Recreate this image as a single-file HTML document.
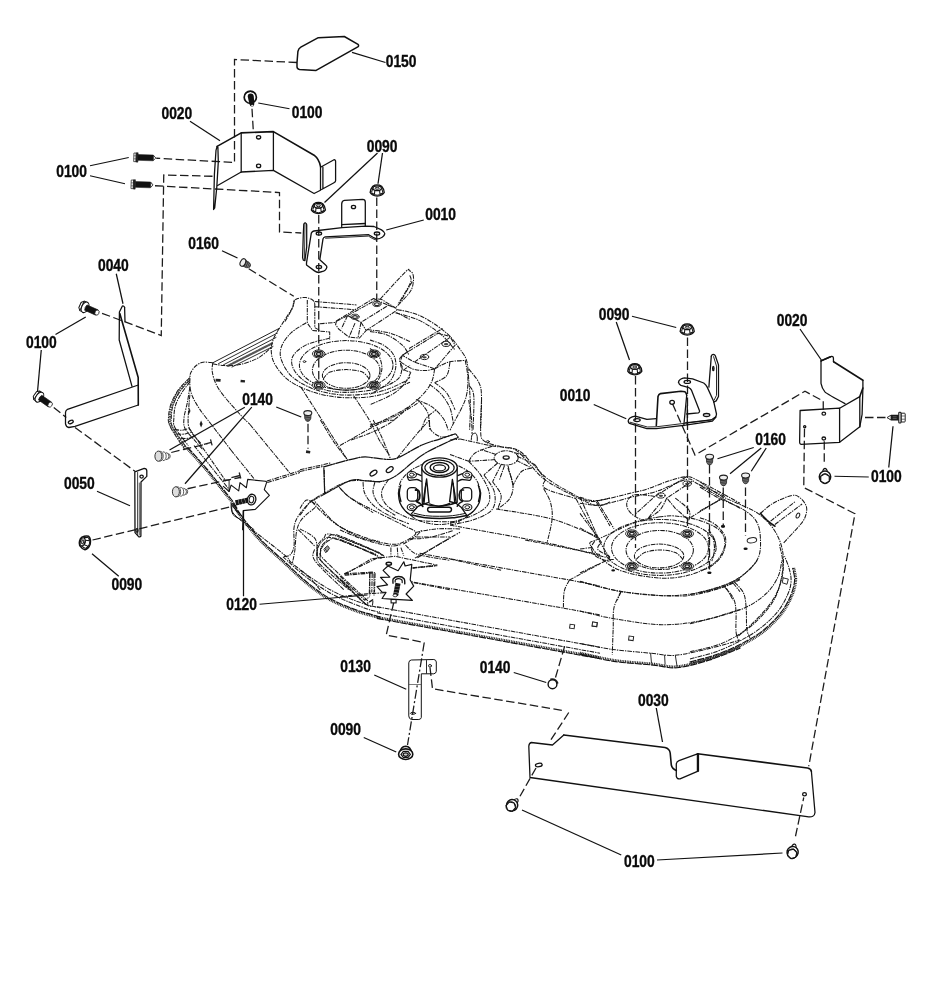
<!DOCTYPE html>
<html><head><meta charset="utf-8"><title>Mower deck parts diagram</title><style>
html,body{margin:0;padding:0;background:#fff}
svg{display:block}
g.tx{filter:opacity(0.999)}
text{font-family:"Liberation Sans",sans-serif;font-weight:bold;font-size:15.9px;fill:#0a0a0a;stroke:#0a0a0a;stroke-width:0.35}
.s{fill:none;stroke:#111;stroke-width:1.28;stroke-linejoin:round;stroke-linecap:round}
.sf{fill:#fff;stroke:#111;stroke-width:1.28;stroke-linejoin:round;stroke-linecap:round}
.t{fill:none;stroke:#222;stroke-width:0.95;stroke-linejoin:round;stroke-linecap:round}
.tf{fill:#fff;stroke:#222;stroke-width:0.95;stroke-linejoin:round;stroke-linecap:round}
.d{fill:none;stroke:#1c1c1c;stroke-width:1.28;stroke-dasharray:8.5 3.5}
.p{fill:none;stroke:#181818;stroke-width:1.04;stroke-dasharray:4.6 1 1.4 1;stroke-linejoin:round}
.l{fill:none;stroke:#111;stroke-width:1.25}
.k{fill:#111;stroke:none}
</style></head><body>
<svg width="940" height="1000" viewBox="0 0 940 1000">
<rect width="940" height="1000" fill="#fff"/>
<!-- 05_defs -->
<defs>
<!-- flanged nut, centred -->
<g id="nut" transform="scale(0.95)">
<path d="M-7.4 2 Q-7.2 -1.6 -4.6 -4.6 Q-2.6 -6 0 -6 Q2.6 -6 4.6 -4.6 Q7.2 -1.6 7.4 2 Q5.6 5.4 0 5.8 Q-5.6 5.4 -7.4 2Z" fill="#fff" stroke="#111" stroke-width="1.45"/>
<path d="M-5.9 1.6 L-4.6 -2.6 M5.9 1.6 L4.6 -2.6 M-2.9 3.9 L-2.5 -0.2 M2.9 3.9 L2.5 -0.2 M-6 2 Q-4.6 3.6 -2.9 3.9 M6 2 Q4.6 3.6 2.9 3.9" fill="none" stroke="#111" stroke-width="1.1"/>
<path d="M-2.5 -0.2 Q0 0.6 2.5 -0.2" fill="none" stroke="#111" stroke-width="1.1"/>
<ellipse cx="0" cy="-2.6" rx="4.4" ry="2.4" fill="#fff" stroke="#111" stroke-width="1.25"/>
<ellipse cx="0" cy="-2.5" rx="2.2" ry="1" fill="#fff" stroke="#111" stroke-width="1"/>
<path d="M-6.6 2.6 Q0 7 6.6 2.6" fill="none" stroke="#111" stroke-width="1"/>
</g>
<!-- horizontal plug (0140) head left -->
<g id="plugh">
<ellipse cx="-3.6" cy="0" rx="3.5" ry="5.1" fill="#ddd" stroke="#333" stroke-width="1"/>
<path d="M-2.8 -4.9 Q1 -5.3 1.2 0 Q1 5.3 -2.8 4.9 M0.8 -4.4 Q4 -4.5 4.2 0 Q4 4.5 0.8 4.4 M3.8 -3.6 Q6.8 -3.6 7 0 Q6.8 3.6 3.8 3.6 M6.6 -2.6 Q8.2 -2 8.2 0 Q8.2 2 6.6 2.6" fill="none" stroke="#444" stroke-width="0.9"/>
</g>
<!-- vertical plug (0160) head top -->
<g id="plugv">
<path d="M-3.2 0 L-3 4.2 Q-2.2 7.2 0 7.2 Q2.2 7.2 3 4.2 L3.2 0Z" fill="#333" stroke="#222" stroke-width="0.8"/>
<path d="M-2.8 2.8 L2.8 2.2 M-2.6 4.6 L2.6 4 M-2 6 L2 5.6" stroke="#999" stroke-width="0.6" fill="none"/>
<ellipse cx="0" cy="-1.1" rx="4" ry="2.5" fill="#eee" stroke="#222" stroke-width="1.1"/>
</g>
<!-- hex flange bolt, axis along +x (head at left, centred on head) -->
<g id="hbolt">
<path d="M-2.2 -5.2 L-4.4 -2.8 L-4.4 2.8 L-2.2 5.2 L0.8 5.2 L0.8 -5.2Z" fill="#fff" stroke="#111" stroke-width="1"/>
<path d="M-2.2 -5.2 L-2.2 5.2" fill="none" stroke="#111" stroke-width="0.8"/>
<ellipse cx="1.2" cy="0" rx="3.4" ry="5.6" fill="#fff" stroke="#111" stroke-width="1.1"/>
<path d="M2 -2.9 L14 -2.9 L14 2.9 L2 2.9 Q0.6 0 2 -2.9Z" fill="#111" stroke="#111" stroke-width="0.6"/>
<ellipse cx="14.2" cy="0" rx="2" ry="2.7" fill="#fff" stroke="#222" stroke-width="0.8"/>
</g>
<!-- long screw axis +x, head left at 0 -->
<g id="screw">
<path d="M4.2 -2.9 L19.4 -2.9 L21.8 0 L19.4 2.9 L4.2 2.9Z" fill="#111" stroke="#111" stroke-width="0.5"/>
<path d="M19.6 -2.5 L22 0 L19.6 2.5Z" fill="#fff" stroke="#222" stroke-width="0.7"/>
<rect x="0" y="-4.3" width="2.3" height="8.6" fill="#fff" stroke="#333" stroke-width="0.8"/>
<path d="M0 -1.5 L2.3 -1.5 M0 1.5 L2.3 1.5" stroke="#333" stroke-width="0.6"/>
<rect x="2.3" y="-4.7" width="1.9" height="9.4" fill="#222" stroke="#111" stroke-width="0.5"/>
</g>
<!-- round-head bolt seen from head, shaft up -->
<g id="rbolt">
<path d="M-2.5 -4.5 Q-2.4 -9.4 0 -9.8 Q2.4 -9.4 2.5 -4.5Z" fill="#fff" stroke="#111" stroke-width="1.2"/>
<circle cx="0" cy="-1.4" r="5.7" fill="#fff" stroke="#111" stroke-width="1.5"/>
<polygon points="4.24,2.95 0.00,5.40 -4.24,2.95 -4.24,-1.95 -0.00,-4.40 4.24,-1.95" fill="#fff" stroke="#111" stroke-width="1.1"/>
<circle cx="0" cy="0.5" r="5" fill="none" stroke="#111" stroke-width="0.9"/>
</g>
<g id="screw2">
<path d="M6.5 -2.6 L14 -2.6 L18 0 L14 2.6 L6.5 2.6Z" fill="#1a1a1a" stroke="#111" stroke-width="0.5"/>
<path d="M14.2 -2.3 L18.2 0 L14.2 2.3Z" fill="#fff" stroke="#222" stroke-width="0.8"/>
<path d="M8.5 -1 L12.5 -1 M8.5 0.8 L12.5 0.8" stroke="#888" stroke-width="0.6"/>
<rect x="0" y="-4.4" width="4.2" height="8.8" rx="0.8" fill="#fff" stroke="#222" stroke-width="1"/>
<path d="M0.3 -1.6 L4 -1.6 M0.3 1.6 L4 1.6" stroke="#333" stroke-width="0.7"/>
<rect x="4.2" y="-5.4" width="2.2" height="10.8" rx="0.8" fill="#fff" stroke="#111" stroke-width="1.1"/>
</g>
<g id="nutb">
<path d="M-5.8 0 Q-5.2 -6.4 0 -6.7 Q5.2 -6.4 5.8 0Z" fill="#fff" stroke="#111" stroke-width="1.4"/>
<ellipse cx="0" cy="1.3" rx="7.1" ry="5.3" fill="#fff" stroke="#111" stroke-width="1.6"/>
<polygon points="4.70,1.50 2.35,4.62 -2.35,4.62 -4.70,1.50 -2.35,-1.62 2.35,-1.62" fill="#fff" stroke="#111" stroke-width="1.2"/>
<ellipse cx="0" cy="1.7" rx="2.5" ry="1.8" fill="#ccc" stroke="#111" stroke-width="1.3"/>
</g>
</defs>
<!-- 20_leaders -->
<g class="l">
<path d="M385.5 62.5 L352 52.3"/>
<path d="M289.5 108.75 L258.25 103"/>
<path d="M190 121.25 L220 140.75"/>
<path d="M90 165.75 L128.75 157.5"/>
<path d="M90 175.75 L125 183.75"/>
<path d="M377.5 153 L324.5 202.5"/>
<path d="M382.5 153 L378 183.75"/>
<path d="M423.75 220 L386.25 230"/>
<path d="M222 250.75 L237.5 258"/>
<path d="M116.25 273.75 L123 303.75"/>
<path d="M55.5 334.5 L85.75 317"/>
<path d="M41.25 350 L37.5 391.75"/>
<path d="M244.8 407.2 L169.5 450"/>
<path d="M251.8 407.2 L185 483.75"/>
<path d="M276.25 407 L301.25 417"/>
<path d="M97 491.25 L130 505.75"/>
<path d="M92 553.75 L118.75 576.25"/>
<path d="M243.5 511 L243.5 596.25"/>
<path d="M259.5 604.25 L367.5 595"/>
<path d="M374.25 675 L406.25 689.25"/>
<path d="M363.75 737.5 L396.25 752"/>
<path d="M513.75 672.5 L546.25 682.5"/>
<path d="M656.25 708 L662.5 742"/>
<path d="M522 810 L621.25 855"/>
<path d="M657 860 L782.5 853"/>
<path d="M632 316.25 L676.25 327.5"/>
<path d="M616.25 322 L629.5 360"/>
<path d="M593.75 404.5 L626.25 418.75"/>
<path d="M800 329 L822 361"/>
<path d="M753.75 447.5 L717.5 458.75"/>
<path d="M761.25 448 L730 473.75"/>
<path d="M766.25 448 L751.25 471.25"/>
<path d="M893 426.25 L888.75 467.5"/>
<path d="M834.5 476.25 L868.75 477"/>
</g>
<!-- 30_dashed -->
<g class="d">
<!-- 0150 to shield -->
<path d="M297 62.5 L234.5 59.5 L234.5 162.5 L156.25 158.25"/>
<!-- top bolt down -->
<path d="M252 108.75 L253.25 130"/>
<!-- lower screw long path to bracket -->
<path d="M155 185.75 L279.5 192.5 L279.5 232 L301.25 233"/>
<!-- L path to 0040 bolt -->
<path d="M212.5 176.25 L163.75 175 L161.25 335.5 L100 312.5"/>
<!-- nuts verticals top -->
<path d="M318.75 215 L318.75 385"/>
<path d="M376.75 197.5 L376.75 301"/>
<!-- 0160 plug to deck -->
<path d="M248.75 268.75 L293.75 296.25"/>
<!-- lower-left bolt to 0040 plate to 0050 -->
<path d="M53.75 407.5 L66.25 417.5"/>
<path d="M75 427.5 L135 471.25"/>
<!-- plugs 0140 -->
<path d="M171.25 452.5 L208 443.5"/>
<path d="M187.5 488.75 L240 477.5"/>
<!-- nut 0090 to bolt 0120 -->
<path d="M92.5 540 L236 505.5"/>
<!-- 0140 mid -->
<path d="M308 423.75 L308 448.75"/>
<!-- 0130 -->
<path d="M393.75 602.5 L386.25 635 L424.25 642.5"/>
<path d="M430 667.5 L432.5 688.75 L564.5 710.75"/>
<path d="M568.75 712.5 L550 741.25"/>
<!-- 0140 bottom -->
<path d="M555.5 677.5 L565 645"/>
<!-- 0030 bolts -->
<path d="M520 796.25 L536.25 767.5"/>
<path d="M795.5 836.25 L803.75 797.5"/>
<!-- long right -->
<path d="M804.5 428.75 L803.75 487.5 L855 513.75 L808.75 766.25"/>
<!-- bracket right to shield -->
<path d="M672.5 403.75 L695 455 L805 391.25 L822 400.5"/>
<path d="M823.25 401.25 L823.25 410"/>
<path d="M824.25 441.25 L824.25 465"/>
<path d="M865 417.5 L886.25 417.5"/>
<!-- right nuts verticals -->
<path d="M635.5 376 L635.5 548"/>
<path d="M687.5 337.5 L687.5 534"/>
<!-- 0160 plugs -->
<path d="M709.5 465 L709.5 572"/>
<path d="M723.25 487.5 L723.25 525"/>
<path d="M745.5 487.5 L745.5 536"/>
</g>
<!-- 0130 centerline dash-dot -->
<path class="d" style="stroke-dasharray:9 2.5 2 2.5" d="M424.25 642.5 L407.5 745"/>
<!-- 40_topleft -->
<g class="s">
<!-- 0150 cover -->
<path style="stroke-width:1.5" d="M297 62.5 L297.9 51.5 Q298.5 48.5 300.8 47.2 L318.3 37.7 L344.3 36.5 L358 44.3 Q359.3 45.6 357.8 46.8 L316.1 70.4 L299.5 69.5 Q297 69 297 66.8 Z"/>
<!-- shield 0020 left -->
<path style="stroke-width:1.6" d="M217.1 146.4 L241.2 132.9 L273.4 131.6 L314.1 155.2 Q319 159 320.5 166.4"/>
<path d="M320.5 166.4 L320.5 190.3 L314.1 193.5 L273.4 170.4 L241.2 172 L217.6 185.5"/>
<path d="M241.2 132.9 L241.2 172 M273.4 131.6 L273.4 170.4"/>
<path d="M217.1 146.4 L216 150.4 L214.4 174.4 L213.6 209.5 L214.7 207.9 L216.8 187.1 L218.3 161.6 L217.9 147.2"/>
<path d="M320.5 167.2 L334 159.7 Q335.6 159.6 335.6 161.5 L335.6 180.7 Q335.6 182 334 182.7 L321.6 189.5 M322.9 167.2 L322.9 188.7"/>
<ellipse cx="258.6" cy="137.3" rx="2.1" ry="1.7"/>
<ellipse cx="258.6" cy="165.9" rx="2.1" ry="1.7"/>
</g>
<!-- 41_brk_top -->
<g class="s">
<!-- bracket 0010 top-left: upright tab -->
<path d="M341.7 227.3 L341.7 203.9 Q341.9 200.6 344.4 200.3 L362.6 199.4 Q365.2 199.5 365.3 202 L365.3 226.1"/>
<path d="M341.7 224.6 L365.3 223.5"/>
<ellipse cx="353.5" cy="207" rx="2.1" ry="1.7"/>
<!-- main plate -->
<path style="stroke-width:1.3" d="M313.9 231 L342.1 227.6 L365.5 226.2 L374 226.5 L381.5 229.9 Q385.2 232.3 384.7 234 Q384.3 236 382.2 237.2 Q378.6 239.4 376.6 238.8 L373 237.3 L368.7 234.7 L325.1 236.8 Q323.4 237.3 323 238.9 L319.8 259.7 L325.6 265 Q327.6 266.6 326.4 268.4 Q325.6 270.2 323.6 271.2 L318.7 272.5 Q316.6 272.4 314.5 270.9 L306.5 265 L306.5 262.9 L311.3 233.1 Q312.3 231.4 313.9 231Z"/>
<path d="M325.6 238.2 L368.4 236.1 L372.8 238.7 L376.6 240.2" style="stroke-width:0.9"/>
<ellipse cx="318.9" cy="233.6" rx="2.7" ry="1.6" style="stroke-width:1.3"/>
<ellipse cx="377" cy="233.6" rx="2.7" ry="1.6" style="stroke-width:1.3"/>
<ellipse cx="318.9" cy="266.9" rx="2.7" ry="1.6" style="stroke-width:1.3"/>
<!-- left flap -->
<path d="M303.8 224 Q304.6 222.8 305.6 223 Q306.7 223.4 306.7 224.8 L306.7 246.9 L304.9 260.7 L303.3 260.2 L302.6 257.6 L303.3 234.1Z"/>
<path d="M305 224 L304.4 259" style="stroke-width:0.8"/>
</g>
<!-- 42_left -->
<g class="s">
<!-- 0040 -->
<path d="M124.6 307.3 Q123.6 305.5 122.4 306 L119.4 312 L119.2 340 L132 386.3"/>
<path d="M124.6 307.3 L125 321.5"/>
<path style="stroke-width:1.6" d="M119.8 313.5 L138.2 377.5 L138.3 405"/>
<path d="M138.3 385 L67.5 409.3 Q65.5 410.5 65.5 412.5 L65.5 423.8 Q66.3 427.2 68.8 427.5 L75 426.3 L138.3 405"/>
<ellipse cx="70.8" cy="422" rx="2.6" ry="1.5" transform="rotate(-25 70.8 422)"/>
<!-- 0050 strap -->
<path d="M134.8 471.8 L144.2 468.4 Q146.6 468.4 146.8 470.8 L146.8 476.4 L141 482 L140.9 536.2 Q139.8 537.6 138.4 536.4 L135 532.6 Z"/>
<path d="M137.6 472.5 L137.6 534.5" style="stroke-width:0.8"/>
<path d="M139.3 483 L139.3 535" style="stroke-width:0.8;stroke:#333"/>
<ellipse cx="141.6" cy="476.6" rx="1.7" ry="1.5"/>
<ellipse cx="137" cy="530.5" rx="1" ry="1.8"/>
<!-- 0130 -->
<path d="M408.8 662.5 Q409 660.2 411.3 660 L433.8 659.5 Q436.1 659.7 436.3 662 L436.3 671.3 Q436 673.5 433.8 673.8 L421.3 673.8 L421.3 717.5 Q421 719.3 418.8 719.5 L411.3 719.5 Q409 719 408.8 716.3Z" style="stroke-width:1"/>
<path d="M409 684.5 L421 684.5" style="stroke-width:0.7;stroke:#444"/><path d="M426.5 660.5 L426.5 673.2" style="stroke-width:0.9"/>
<ellipse cx="430" cy="665.8" rx="1.5" ry="1.3" style="stroke-width:0.9"/>
<ellipse cx="413" cy="713.3" rx="2.6" ry="1" style="stroke-width:0.9"/>
</g>
<!-- 43_plate0030 -->
<g class="s">
<path style="stroke-width:1.6" d="M563.8 735 L665 747.5 Q669.6 748.6 670.2 753 L671.3 765 Q672.2 769 676.3 770.4 M697.5 753.8 L807.5 768 Q811 768.6 811.4 771.5"/>
<path d="M563.8 735 L552.5 745 L531.3 742.5 Q529 743 528.8 746.3 L530 777.5 L807 816.6 Q814.6 818 815 812.5 L811.4 771.5"/>
<path d="M676.3 764 Q676.6 761.6 679 760.6 L697.5 753.8 L697.5 771.3 L680 778.8 Q677 779.4 676.3 776.3 Z"/><path d="M698 754 L698 771" style="stroke-width:2.2"/>
<ellipse cx="538.8" cy="765" rx="3.4" ry="1.7" transform="rotate(-8 538.8 765)"/>
<ellipse cx="804.5" cy="794.3" rx="1.9" ry="1.6"/>
</g>
<!-- 44_right -->
<g class="s">
<!-- right shield 0020 -->
<path d="M821 361 L826.4 358.6 L831.6 356.4 Q833.2 356.2 833.4 357.8 L833.5 361.8"/>
<path style="stroke-width:1.6" d="M821.2 360.8 L830.4 356.8 M833.6 361.8 L862.9 380.3"/>

<path d="M821 361 L821 383.4 Q822 388.6 824.9 391.9 Q827 394 845 403.6"/>
<path d="M862.9 380.3 L862.9 388.1 L862.1 414.4 L859.8 426.8"/>
<path d="M862.9 388.1 L859.8 396.6" style="stroke-width:1.6"/>
<path d="M839.6 408.2 L859.8 396.6 L859.8 426.8 L839.6 442.3"/>
<path d="M800.1 410.5 L839.6 408.2 L839.6 442.3 L801 444.3 Q799.6 444 799.6 442.3 Z"/>
<ellipse cx="823.8" cy="413.7" rx="1.8" ry="1.5"/>
<ellipse cx="823.8" cy="438.5" rx="1.8" ry="1.5"/>
<ellipse cx="804.7" cy="426.8" rx="1.1" ry="1.1"/>
</g>
<!-- 45_brk_right -->
<g class="s">
<!-- side upright tab -->
<path d="M711.3 356.1 Q711.9 354.4 713.2 354.4 Q714.8 354.6 715.3 355.8 L718.5 364.9 L718.5 396.5 L716.2 400.9 L713.6 402.1"/>
<path d="M711.3 356.1 L709.5 378.9 L708.9 387.1" />
<path d="M713.6 356.7 L716.5 366.1 L716.5 395.3 L714.2 400" style="stroke-width:0.9"/>
<ellipse cx="713.3" cy="368.4" rx="0.7" ry="2.1"/>
<!-- upper lobe + right side -->
<path d="M678.5 382.4 Q678.6 380.3 680.5 379.2 Q682.4 378 684.4 377.8 L692.6 378.9 L703.7 383 Q706 384.6 707.2 387.1 L713.6 401.2 L716.5 414 Q716.4 416 715.4 417 L711.3 419.9 L685.5 422.8"/>
<path d="M678.5 382.4 Q679 384.3 680.9 385.4 L689 387.7 Q690.6 388.5 691.4 390.1 L699.6 411.1 Q699.6 412.5 698.4 412.9 L686.7 414"/>
<ellipse cx="687.3" cy="381.9" rx="3.2" ry="1.5" style="stroke-width:1.3"/>
<ellipse cx="706.6" cy="415" rx="3.2" ry="1.5" style="stroke-width:1.3"/>
<!-- front triangle tab -->
<path style="stroke-width:1.6" d="M656.3 425.7 L658 396.5 Q658.6 394 660.4 393.6 L680.9 391.2 L685 391.8 Q686.6 393 686.7 395.3"/>
<path d="M686.7 395.3 L683.8 425.7 M687.3 405.9 L687.3 424.6"/>
<ellipse cx="672.1" cy="402.3" rx="2.3" ry="2"/>
<!-- base plate -->
<path d="M656.3 418.7 L646.9 419.3 L635.2 416.2 Q631.8 416.6 630 418.1 Q628.2 419.6 628.2 421.1 Q628.4 422.6 629.4 423.4 L646.9 428.7 L656.3 428.7 L685.5 425.2 L712.4 421.1 L716 417" style="stroke-width:1.3"/>
<path d="M630 422.2 L647.5 427 L656.3 426.8 L685.5 423.2 L711 419.9" style="stroke-width:0.9"/>
<ellipse cx="637" cy="420.1" rx="3.2" ry="1.5" style="stroke-width:1.3"/>
</g>
<!-- 50_deck1 -->
<g>
<path class="p" d="M212.8 362.8 C211.2 362.7 206.0 361.7 203.2 362.2 C200.3 362.7 197.7 364.3 195.7 366.0 C193.7 367.7 192.0 370.4 191.0 372.3 C190.0 374.2 190.1 375.2 189.9 377.7 C189.7 380.2 189.9 385.6 189.9 387.2"/>
<path class="p" d="M212.8 362.8 C212.7 364.2 211.7 367.8 212.2 371.3 C212.7 374.8 213.9 379.8 216.0 384.0 C218.1 388.2 220.2 391.5 224.5 396.8 C228.8 402.1 237.2 411.4 241.5 416.0 C245.8 420.6 248.6 423.1 250.0 424.5"/>
<path class="p" d="M189.9 387.2 C190.3 388.8 190.9 393.1 192.6 396.8 C194.3 400.5 196.5 404.5 200.0 409.6 C203.5 414.8 208.7 421.0 213.8 427.7 C219.0 434.4 228.1 446.3 230.9 450.0"/>
<path class="p" d="M189.9 377.7 C188.0 379.6 181.8 385.1 178.7 389.4 C175.6 393.6 173.0 398.8 171.3 403.2 C169.6 407.6 168.8 412.1 168.6 416.0 C168.4 419.9 167.4 420.9 170.2 426.6 C172.9 432.3 182.6 446.1 185.1 450.0"/>
<path class="p" d="M189.9 379.8 C188.3 381.7 183.1 386.9 180.3 391.0 C177.6 395.1 174.9 400.0 173.4 404.3 C171.9 408.6 171.4 413.2 171.3 417.0 C171.2 420.8 170.1 422.0 172.7 427.1 C175.3 432.2 184.4 444.4 186.7 447.9"/>
<path class="p" d="M189.9 381.9 C188.6 383.7 184.3 388.7 181.9 392.6 C179.5 396.5 176.8 401.1 175.5 405.3 C174.2 409.6 174.0 414.4 173.9 418.1 C173.8 421.8 172.6 423.1 175.0 427.7 C177.4 432.3 186.1 442.7 188.3 445.7"/>
<path class="p" style="stroke-width:2.4;stroke:#444;stroke-dasharray:1.4 1" d="M189.6 378.7 C187.9 380.6 182.4 386.0 179.5 390.2 C176.6 394.4 173.9 399.3 172.3 403.7 C170.7 408.1 170.1 412.6 169.9 416.5 C169.7 420.4 168.6 421.4 171.3 426.8 C174.0 432.2 183.6 445.2 186.0 448.9"/>
<path class="p" d="M189.9 387.2 C189.4 389.9 188.2 398.0 187.2 403.2 C186.2 408.4 184.3 413.9 184.0 418.1 C183.7 422.4 183.3 425.0 185.1 428.7 C186.9 432.4 191.7 436.8 194.7 440.4 C197.7 443.9 201.8 448.4 203.2 450.0"/>
<path class="p" d="M189.9 394.7 C189.7 396.8 189.1 402.4 188.8 407.4 C188.5 412.4 187.7 420.1 188.3 424.5 C188.9 428.9 190.5 430.8 192.6 434.0 C194.7 437.2 199.7 442.0 201.1 443.6"/>
<path class="p" d="M174.5 429.3 C175.7 429.5 179.6 430.4 181.9 430.3 C184.2 430.2 187.2 429.0 188.3 428.7"/>
<path class="p" d="M176.6 434.0 C178.0 434.0 182.6 434.4 185.1 434.0 C187.6 433.6 190.4 432.2 191.5 431.9"/>
<path class="p" d="M180.9 438.3 C182.1 438.3 186.0 438.7 188.3 438.3 C190.6 437.9 193.6 436.6 194.7 436.2"/>
<rect x="215.6" y="378.8" width="5" height="2.8" fill="#222" transform="rotate(4 218 380)"/>
<rect x="240.6" y="379.9" width="4.4" height="2.4" fill="#222" transform="rotate(6 242 381)"/>
<path d="M201.1 420.6 L202.6 424 L201.1 427.4 L199.6 424Z" fill="#222"/>
<path d="M189.6 407.6 L190.4 411 L189.6 414 L188.8 411Z" fill="#222"/>
<path class="t" style="stroke-width:1" d="M212.8 362.8 L279.0 328.5"/>
<path class="t" d="M218.5 363.6 L277.5 333.0"/>
<path class="t" d="M223.5 364.8 L276.0 337.5"/>
<path class="t" style="stroke-width:2.2;stroke:#555;stroke-dasharray:1.4 1" d="M228.0 365.8 L272.0 343.5"/>
<path class="t" d="M232.0 367.0 L273.0 346.5"/>
<path class="p" d="M212.8 363.8 C214.8 364.1 220.0 365.5 224.5 365.6 C229.0 365.7 234.4 365.8 240.0 364.5 C245.6 363.2 252.7 360.9 258.0 358.0 C263.3 355.1 269.7 348.8 272.0 347.0"/>
</g>
<!-- 51_deck2 -->
<g>
<path class="p" d="M294.3 299.8 C294.0 301.1 294.3 303.8 292.6 307.4 C290.9 310.9 287.1 316.0 284.0 321.1 C280.9 326.2 275.9 333.0 273.8 338.1 C271.7 343.2 271.0 347.2 271.3 351.7 C271.6 356.2 272.5 360.5 275.5 365.3 C278.5 370.1 282.6 376.1 289.1 380.6 C295.6 385.2 305.3 389.8 314.7 392.6 C324.1 395.5 334.5 397.3 345.3 397.7 C356.1 398.1 368.6 397.7 379.4 395.1 C390.2 392.5 404.9 384.4 410.0 382.3"/>
<path class="p" d="M306.2 322.8 C303.6 324.5 295.0 329.0 290.9 333.0 C286.8 337.0 283.1 342.1 281.5 346.6 C279.9 351.1 279.6 355.1 281.5 360.2 C283.4 365.3 286.8 372.2 292.6 377.2 C298.4 382.2 307.5 387.0 316.4 390.0 C325.3 393.0 335.7 394.8 346.2 395.1 C356.7 395.4 369.9 393.8 379.4 391.7 C388.9 389.6 398.1 384.7 403.2 382.3 C408.3 379.9 408.9 378.1 410.0 377.2"/>
<path class="p" d="M330.0 338.1 C326.0 339.2 312.4 341.8 306.2 344.9 C300.0 348.0 294.6 352.6 292.6 356.8 C290.6 361.1 291.8 366.0 294.3 370.4 C296.9 374.8 301.9 379.8 307.9 383.2 C313.8 386.6 322.6 389.4 330.0 390.9 C337.4 392.4 343.9 392.6 352.1 392.2 C360.3 391.8 371.7 390.5 379.4 388.3 C387.1 386.1 394.3 382.4 398.1 378.9 C401.9 375.3 401.6 369.0 402.3 367.0"/>
<ellipse class="p" cx="346.2" cy="365.3" rx="46.8" ry="24.7"/>
<ellipse class="p" cx="346.2" cy="370.2" rx="33.8" ry="20"/>
<ellipse class="p" cx="346.2" cy="375.5" rx="23.8" ry="12.8"/>
<path class="p" d="M323.2 378.9 C324.3 377.8 326.2 373.7 330.0 372.1 C333.8 370.6 340.8 369.6 346.2 369.6 C351.6 369.6 358.5 370.6 362.3 372.1 C366.1 373.7 368.0 377.8 369.1 378.9"/>
<ellipse class="tf" style="stroke-width:1;stroke-dasharray:4 1" cx="318.7" cy="353.9" rx="6.3" ry="4"/>
<ellipse class="t" style="stroke-width:1.3" cx="318.7" cy="353.9" rx="4.3" ry="2.7"/>
<ellipse class="t" style="stroke-width:1.3;stroke:#222" cx="318.7" cy="353.9" rx="2.3" ry="1.4"/>
<ellipse class="tf" style="stroke-width:1;stroke-dasharray:4 1" cx="373.9" cy="353.9" rx="6.3" ry="4"/>
<ellipse class="t" style="stroke-width:1.3" cx="373.9" cy="353.9" rx="4.3" ry="2.7"/>
<ellipse class="t" style="stroke-width:1.3;stroke:#222" cx="373.9" cy="353.9" rx="2.3" ry="1.4"/>
<ellipse class="tf" style="stroke-width:1;stroke-dasharray:4 1" cx="318.7" cy="385.2" rx="6.3" ry="4"/>
<ellipse class="t" style="stroke-width:1.3" cx="318.7" cy="385.2" rx="4.3" ry="2.7"/>
<ellipse class="t" style="stroke-width:1.3;stroke:#222" cx="318.7" cy="385.2" rx="2.3" ry="1.4"/>
<ellipse class="tf" style="stroke-width:1;stroke-dasharray:4 1" cx="373.9" cy="385.2" rx="6.3" ry="4"/>
<ellipse class="t" style="stroke-width:1.3" cx="373.9" cy="385.2" rx="4.3" ry="2.7"/>
<ellipse class="t" style="stroke-width:1.3;stroke:#222" cx="373.9" cy="385.2" rx="2.3" ry="1.4"/>
<ellipse class="t" style="stroke-width:1" cx="304.5" cy="361.6" rx="1.3" ry="0.9"/>
<path class="p" d="M336.4 320.9 L373.6 298.5 L381.8 299.6 L396.0 308.2 L396.7 310.4 L366.2 330.5"/>
<path class="p" d="M347.6 315.6 L375.9 300.0 L388.5 305.2 L361.0 322.3 L347.6 315.6"/>
<path class="p" d="M336.4 320.9 L335.6 324.6 L338.6 329.0 L349.0 337.2 L359.5 338.0 L366.2 330.5"/>
<path class="p" d="M347.6 315.6 L336.4 321.3"/>
<path class="p" d="M347.6 315.6 L341.6 328.3"/>
<path class="p" d="M361.0 322.3 L366.2 330.5"/>
<path class="p" d="M361.0 322.3 L358.0 338.0"/>
<path class="p" d="M355.0 323.1 L349.0 337.2"/>
<path class="p" d="M388.5 305.2 L396.0 308.2"/>
<path class="p" d="M375.9 300.0 L374.4 299.0"/>
<ellipse class="t" style="stroke-width:0.9" cx="355" cy="316.8" rx="4.1" ry="2.6"/>
<ellipse class="t" style="stroke-width:1.1" cx="355" cy="317" rx="2.3" ry="1.4"/>
<ellipse class="t" style="stroke-width:0.9" cx="376.9" cy="304" rx="4.1" ry="2.6"/>
<ellipse class="t" style="stroke-width:1.1" cx="376.9" cy="304.2" rx="2.3" ry="1.4"/>
<path class="p" d="M285.0 321.6 C286.2 319.4 290.9 311.6 292.4 308.2 C293.9 304.8 293.0 303.1 293.9 301.5 C294.8 299.9 295.7 299.2 297.7 298.5 C299.7 297.8 303.4 297.2 305.9 297.5 C308.4 297.8 311.1 299.0 312.6 300.0 C314.1 301.0 314.4 303.1 314.8 303.7"/>
<path class="p" d="M314.8 303.7 L314.8 327.6"/>
<path class="p" d="M307.3 300.0 L307.3 323.1 L312.6 330.5 L329.7 332.0 L329.7 339.5"/>
<path class="p" d="M314.8 327.6 L320.0 330.5"/>
<path class="p" d="M314.8 301.5 L356.5 304.9"/>
<path class="p" d="M314.8 306.7 L355.0 309.7"/>
<path class="p" d="M320.0 323.8 L336.4 322.3"/>
<path class="p" d="M301.1 387.4 L347.5 460.0"/>
<path class="p" d="M353.8 396.0 C356.4 400.0 364.8 412.4 369.1 419.8 C373.4 427.2 376.0 434.2 379.4 440.2 C382.8 446.1 387.9 452.9 389.6 455.5"/>
<path class="p" d="M410.0 406.2 C406.6 409.0 396.4 418.7 389.6 423.2 C382.8 427.7 375.6 430.6 369.1 433.4 C362.6 436.2 353.5 439.1 350.4 440.2"/>
<path class="p" d="M396.4 312.6 L410.0 319.4"/>
<path class="p" d="M367.4 329.6 C371.1 330.2 382.5 331.0 389.6 333.0 C396.7 335.0 406.6 340.1 410.0 341.5"/>
<path class="p" d="M402.3 367.0 C401.9 365.6 398.5 361.3 399.8 358.5 C401.1 355.7 408.3 351.4 410.0 350.0"/>
<path class="p" d="M403.2 370.4 L410.0 365.3"/>
</g>
<!-- 52_deck3 -->
<g>
<path class="p" d="M380.3 299.0 C384.5 294.4 400.8 276.4 405.6 271.7 C410.5 267.0 408.2 270.3 409.4 270.7 C410.6 271.1 412.1 272.1 412.8 273.9 C413.5 275.7 413.8 278.4 413.4 281.4 C412.9 284.4 413.0 287.5 410.1 291.8 C407.2 296.1 398.4 304.8 396.0 307.4"/>
<path class="p" d="M412.3 281.4 L399.7 303.0"/>
<path class="p" d="M409.8 275.4 C409.9 276.6 412.3 278.1 410.4 282.9 C408.5 287.7 400.2 300.5 398.2 304.0"/>
<path class="p" d="M397.2 309.4 C401.2 310.5 412.9 312.2 421.1 316.2 C429.3 320.2 439.8 327.2 446.6 333.2 C453.4 339.1 458.5 347.1 461.9 351.9 C465.3 356.7 465.9 357.6 467.0 362.1 C468.1 366.6 468.1 372.0 468.7 379.1 C469.3 386.2 470.2 396.2 470.4 404.7 C470.5 413.2 469.7 425.9 469.6 430.2"/>
<path class="p" d="M395.5 312.8 C399.5 314.1 411.7 316.7 419.4 320.4 C427.1 324.1 435.6 329.9 441.5 334.9 C447.4 339.9 452.8 347.6 455.1 350.2"/>
<path class="p" d="M468.7 368.9 C470.4 371.2 476.8 378.1 478.9 382.6 C481.0 387.2 481.2 388.3 481.5 396.2 C481.8 404.1 480.8 424.5 480.6 430.2"/>
<path class="p" d="M469.6 386.0 C470.3 387.7 473.2 388.8 473.8 396.2 C474.4 403.6 473.1 424.5 473.0 430.2"/>
<path class="p" d="M402.3 355.3 L438.1 333.2 L450.0 336.6 L455.1 345.1 L434.7 368.9 L414.3 362.1 L402.3 355.3"/>
<path class="p" d="M409.1 348.5 L443.2 328.1"/>
<path class="p" d="M414.3 362.1 L450.0 337.4"/>
<path class="p" d="M434.7 368.9 C437.0 367.8 443.2 363.5 448.3 362.1 C453.4 360.7 462.5 360.7 465.3 360.4"/>
<ellipse class="t" style="stroke-width:1" cx="446.1" cy="343.9" rx="4.2" ry="2.6"/>
<ellipse class="k" style="fill:#444" cx="446.1" cy="344.2" rx="2.2" ry="1.1"/>
<ellipse class="t" style="stroke-width:1" cx="424.5" cy="357" rx="4.2" ry="2.6"/>
<ellipse class="k" style="fill:#444" cx="424.5" cy="357.3" rx="2.2" ry="1.1"/>
<path class="p" d="M370.0 331.5 C372.8 332.1 381.6 332.6 387.0 334.9 C392.4 337.2 398.6 341.7 402.3 345.1 C406.0 348.5 408.0 353.6 409.1 355.3"/>
<path class="p" d="M370.0 340.0 C372.3 340.9 379.6 342.6 383.6 345.1 C387.6 347.7 391.8 351.3 393.8 355.3 C395.8 359.3 396.4 364.3 395.5 368.9 C394.6 373.4 392.9 378.3 388.7 382.6 C384.4 386.9 373.1 392.5 370.0 394.5"/>
<path class="p" d="M370.0 348.5 C371.4 349.6 376.5 351.9 378.5 355.3 C380.5 358.7 382.2 364.3 381.9 368.9 C381.6 373.4 378.8 379.5 376.8 382.6 C374.8 385.7 371.1 386.9 370.0 387.7"/>
<path class="p" d="M400.6 362.1 C402.6 363.2 408.6 367.5 412.6 368.9 C416.6 370.3 420.8 370.6 424.5 370.6 C428.2 370.6 433.0 369.2 434.7 368.9"/>
<path class="p" d="M402.3 355.3 C402.0 356.4 400.6 359.8 400.6 362.1 C400.6 364.4 400.6 367.2 402.3 368.9 C404.0 370.6 409.5 371.7 410.9 372.3"/>
<path class="p" d="M410.9 372.3 C409.8 374.3 407.1 380.6 404.0 384.3 C400.9 388.0 397.8 391.1 392.1 394.5 C386.4 397.9 373.7 403.0 370.0 404.7"/>
<path class="p" d="M434.7 368.9 C434.1 371.2 433.6 378.1 431.3 382.6 C429.0 387.2 425.7 391.7 421.1 396.2 C416.6 400.7 412.5 404.7 404.0 409.8 C395.5 414.9 375.7 424.0 370.0 426.8"/>
<path class="p" d="M450.0 362.1 C449.4 364.4 449.2 372.3 446.6 375.7 C444.1 379.1 436.7 381.5 434.7 382.6"/>
<path class="p" d="M429.6 384.3 C431.6 386.0 438.1 390.5 441.5 394.5 C444.9 398.5 448.0 403.3 450.0 408.1 C452.0 412.9 452.8 420.8 453.4 423.4"/>
<path class="p" d="M434.7 382.6 C436.7 384.3 443.2 388.3 446.6 392.8 C450.0 397.3 453.7 407.0 455.1 409.8"/>
<path class="p" d="M416.0 399.6 C418.6 400.7 426.8 403.3 431.3 406.4 C435.8 409.5 440.4 414.3 443.2 418.3 C446.0 422.3 447.4 428.2 448.3 430.2"/>
<path class="p" d="M419.4 401.3 C420.8 403.3 426.2 408.4 427.9 413.2 C429.6 418.0 429.3 427.4 429.6 430.2"/>
<path class="p" d="M465.3 360.4 C465.7 363.5 467.9 372.6 467.9 379.1 C467.9 385.6 467.7 392.2 465.3 399.6 C462.9 407.0 455.9 418.3 453.4 423.4 C450.8 428.5 450.6 429.1 450.0 430.2"/>
<path class="p" d="M421.1 430.2 C422.0 428.2 423.6 421.7 426.2 418.3 C428.8 414.9 434.7 411.2 436.4 409.8"/>
<path class="p" d="M370.0 425.1 C373.4 424.0 383.3 421.4 390.4 418.3 C397.5 415.2 407.8 409.2 412.6 406.4 C417.4 403.6 418.3 402.1 419.4 401.3"/>
</g>
<!-- 53_deck5 -->
<g>
<path class="sf" style="stroke-width:1.2;stroke-dasharray:9 1.2 1.5 1.2" d="M323.8 466.8 C329.8 465.2 351.4 458.9 359.6 457.4 C367.8 455.9 368.1 457.4 373.2 457.8 C378.3 458.2 385.7 459.7 390.2 459.5 C394.7 459.3 395.0 459.1 400.4 456.6 C405.8 454.1 416.1 447.6 422.6 444.7 C429.1 441.8 434.4 440.8 439.6 439.1 C444.8 437.4 451.3 435.2 454.0 434.3 C456.7 433.4 454.9 433.6 455.6 434.0 C456.3 434.4 457.8 436.3 458.0 437.0 C458.2 437.7 458.5 437.2 456.9 438.0 C455.2 438.8 453.2 439.4 448.1 441.8 C443.0 444.2 432.0 449.2 426.0 452.7 C420.0 456.2 417.4 458.7 412.3 462.6 C407.2 466.5 400.4 473.1 395.3 476.2 C390.2 479.3 386.5 480.5 381.7 481.3 C376.9 482.1 371.5 481.0 366.4 480.9 C361.3 480.8 358.1 478.2 351.1 480.4 C344.2 482.6 329.1 491.7 324.7 494.0Z"/>
<ellipse class="s" cx="373.5" cy="473.1" rx="3.9" ry="2.1" transform="rotate(-35 373.5 473.1)"/>
<ellipse class="s" cx="389.7" cy="469.7" rx="3.9" ry="2.1" transform="rotate(-35 389.7 469.7)"/>
<path class="p" d="M300.0 469.7 L323.8 464.6 L330.6 462.9"/>
<path class="p" d="M300.0 471.4 L323.8 466.3"/>
<path class="p" d="M320.4 420.0 C322.7 423.7 329.4 435.4 334.0 442.1 C338.6 448.8 345.4 457.0 347.7 460.0"/>
<path class="p" d="M340.0 445.5 C346.7 441.8 370.8 427.6 380.0 423.4 C389.2 419.1 392.8 420.6 395.3 420.0"/>
<path class="p" d="M373.2 420.0 C374.6 422.8 378.9 430.6 381.7 437.0 C384.5 443.4 388.8 454.8 390.2 458.3"/>
<path class="p" d="M397.0 458.3 C400.1 454.5 410.3 441.7 415.7 435.3 C421.1 428.9 427.1 422.6 429.4 420.0"/>
<path class="p" d="M429.4 420.0 C429.7 421.7 429.1 427.4 431.1 430.2 C433.1 433.0 437.6 436.3 441.3 437.0 C445.0 437.7 451.2 434.9 453.2 434.5"/>
<path class="p" d="M313.6 500.0 L324.7 494.0"/>
<path class="p" d="M340.0 488.1 C341.9 489.8 345.0 494.3 351.1 498.3 C357.2 502.3 367.8 507.4 376.6 511.9 C385.4 516.4 397.3 522.1 403.8 525.5 C410.3 528.9 414.9 530.0 415.7 532.3 C416.5 534.6 412.3 537.1 408.9 539.1 C405.5 541.1 401.0 543.9 395.3 544.3 C389.6 544.6 381.4 542.6 374.9 541.2 C368.4 539.8 363.0 538.9 356.2 535.7 C349.4 532.5 341.1 528.1 334.0 522.1 C326.9 516.1 317.0 503.7 313.6 500.0"/>
<path class="p" d="M300.0 515.3 C301.7 513.0 307.9 504.2 310.2 501.7 C312.5 499.1 313.0 500.3 313.6 500.0"/>
<path class="p" d="M300.0 508.5 C301.1 507.1 304.0 500.6 306.8 500.0 C309.6 499.4 315.3 504.2 317.0 505.1"/>
<path class="p" d="M363.0 482.1 C363.3 484.0 363.0 489.4 364.7 493.2 C366.4 497.0 369.2 501.4 373.2 505.1 C377.2 508.8 382.6 512.2 388.5 515.3 C394.4 518.4 405.5 522.4 408.9 523.8"/>
<path class="p" d="M374.9 482.1 C374.6 484.0 372.3 489.4 373.2 493.2 C374.1 497.0 376.3 501.4 380.0 505.1 C383.7 508.8 392.8 513.6 395.3 515.3"/>
<path class="p" d="M388.5 479.6 C387.4 481.6 382.3 487.5 381.7 491.5 C381.1 495.5 382.3 499.7 385.1 503.4 C387.9 507.1 393.0 510.8 398.7 513.6 C404.4 516.4 408.9 519.0 419.1 520.4 C429.3 521.8 453.2 521.8 460.0 522.1"/>
<path class="p" d="M415.7 532.3 C419.1 531.7 428.8 529.5 436.2 528.9 C443.6 528.3 456.0 528.9 460.0 528.9"/>
<path class="p" d="M408.9 539.1 C412.3 538.8 422.0 538.8 429.4 537.4 C436.8 536.0 449.2 531.7 453.2 530.6"/>
<path class="p" d="M417.4 557.9 C420.5 555.9 429.1 550.3 436.2 546.0 C443.3 541.7 456.0 534.6 460.0 532.3"/>
<path class="p" d="M317.0 556.2 C317.3 554.5 317.0 549.1 318.7 546.0 C320.4 542.9 323.8 539.1 327.2 537.4 C330.6 535.7 330.0 532.9 339.1 535.7 C348.2 538.6 374.9 550.8 381.7 554.5 C388.5 558.2 380.3 557.6 380.0 558.2"/>
<path class="p" d="M320.1 557.0 C320.4 555.5 320.3 550.5 321.8 547.7 C323.3 545.0 326.0 541.9 328.9 540.5 C331.8 539.1 331.0 536.5 339.1 539.1 C347.2 541.7 371.0 553.4 377.4 556.2"/>
<path class="p" d="M317.0 556.2 C317.6 557.6 315.0 559.0 320.4 564.7 C325.8 570.4 344.6 586.0 349.4 590.2"/>
<path class="p" d="M320.1 557.0 C320.6 558.0 317.6 557.5 323.0 563.0 C328.4 568.5 347.8 585.7 352.8 590.2"/>
<path class="p" d="M314.5 549.4 C314.6 551.4 310.3 554.5 315.3 561.3 C320.3 568.1 339.5 585.4 344.3 590.2"/>
<path d="M323.8 549.4 l2.6 -2.4 l1.6 2.4 l-2.2 3.4Z" fill="none" stroke="#222" stroke-width="0.9"/>
<path class="p" d="M300.0 528.9 C302.6 530.6 312.5 534.5 315.3 539.1 C318.1 543.7 316.7 553.4 317.0 556.2"/>
<path class="p" d="M300.0 569.8 C301.7 571.2 306.8 574.9 310.2 578.3 C313.6 581.7 318.7 588.2 320.4 590.2"/>
</g>
<!-- 54_deck6 -->
<g>
<path class="p" d="M468.7 400.0 C469.1 402.8 470.7 411.3 471.3 417.0 C471.9 422.7 472.0 431.2 472.1 434.0"/>
<path class="p" d="M481.5 400.0 C481.4 405.1 480.2 423.8 480.6 430.6 C481.0 437.4 480.6 438.2 484.0 440.9 C487.4 443.6 495.4 445.2 501.1 446.8 C506.8 448.4 513.0 447.5 518.1 450.2 C523.2 452.9 526.9 458.3 531.7 463.0 C536.5 467.7 540.8 473.5 547.0 478.3 C553.2 483.1 562.0 488.1 569.1 491.9 C576.2 495.7 582.8 500.3 589.6 501.3 C596.4 502.3 606.6 498.5 610.0 497.9"/>
<path class="p" d="M460.2 439.1 C465.6 440.2 483.5 444.3 492.6 446.0 C501.7 447.7 508.5 446.3 514.7 449.4 C520.9 452.5 524.9 459.6 530.0 464.7 C535.1 469.8 538.2 474.9 545.3 480.0 C552.4 485.1 564.1 491.1 572.6 495.3 C581.1 499.6 590.2 504.4 596.4 505.5 C602.6 506.6 607.7 502.7 610.0 502.1"/>
<path class="p" d="M450.0 440.0 L460.2 439.1"/>
<path class="p" d="M450.0 454.5 L468.7 461.3"/>
<ellipse class="p" cx="506.2" cy="457.9" rx="12" ry="7.1"/>
<ellipse class="t" style="stroke-width:1.4" cx="506.2" cy="457.6" rx="3" ry="1.7"/>
<path class="p" d="M495.1 459.6 L468.7 461.3"/>
<path class="p" d="M497.7 463.0 L484.0 474.9"/>
<path class="p" d="M501.1 464.7 L492.6 481.7"/>
<path class="p" d="M504.5 465.5 L499.4 480.0"/>
<path class="p" d="M507.9 465.5 L513.0 485.1"/>
<path class="p" d="M516.4 460.4 L531.7 468.1"/>
<path class="p" d="M517.2 456.2 L535.1 464.7"/>
<path class="p" d="M496.0 454.5 L480.6 449.4"/>
<path class="p" d="M514.7 452.8 L526.6 456.2"/>
<path class="p" d="M468.7 461.3 C469.8 459.9 471.5 455.4 475.5 452.8 C479.5 450.2 489.8 447.1 492.6 446.0"/>
<path class="p" d="M531.7 468.1 C530.0 468.7 524.6 468.7 521.5 471.5 C518.4 474.3 514.4 482.8 513.0 485.1"/>
<path class="p" d="M535.1 464.7 L545.3 480.0"/>
<path class="p" d="M468.7 461.3 C470.7 463.6 477.2 469.8 480.6 474.9 C484.0 480.0 488.0 486.8 489.1 491.9 C490.2 497.0 490.2 501.5 487.4 505.5 C484.6 509.5 478.3 512.9 472.1 515.7 C465.9 518.6 453.7 521.5 450.0 522.6"/>
<path class="p" d="M484.0 474.9 C485.7 477.7 492.9 486.2 494.3 491.9 C495.7 497.6 495.7 504.4 492.6 508.9 C489.5 513.4 482.6 516.4 475.5 519.1 C468.4 521.8 454.2 524.1 450.0 525.1"/>
<path class="p" d="M492.6 481.7 C494.0 484.0 500.2 490.8 501.1 495.3 C502.0 499.8 498.3 506.6 497.7 508.9"/>
<path class="p" d="M507.9 468.1 C508.8 470.9 512.7 480.0 513.0 485.1 C513.3 490.2 512.1 494.7 509.6 498.7 C507.1 502.7 499.7 507.2 497.7 508.9"/>
<path class="p" d="M496.0 508.9 C505.4 510.6 535.4 514.5 552.1 519.1 C568.8 523.7 589.0 533.4 596.4 536.2"/>
<path class="p" d="M450.0 525.1 C466.2 528.1 520.3 537.5 547.0 543.0 C573.7 548.5 599.5 555.8 610.0 558.3"/>
<path class="p" d="M450.0 559.1 L501.1 570.2"/>
<path class="p" d="M543.6 488.5 C544.7 490.8 549.0 497.0 550.4 502.1 C551.8 507.2 552.7 512.3 552.1 519.1 C551.5 525.9 547.9 539.0 547.0 543.0"/>
<path class="p" d="M576.0 498.7 C579.4 504.9 590.7 526.3 596.4 536.2 C602.1 546.1 607.7 554.6 610.0 558.3"/>
<path class="p" d="M596.4 502.1 L610.0 526.0"/>
<path class="p" d="M594.7 541.3 C594.1 542.4 591.0 545.5 591.3 548.1 C591.6 550.7 593.3 554.3 596.4 556.6 C599.5 558.9 607.7 560.9 610.0 561.7"/>
<path class="p" d="M599.8 543.8 C599.5 544.8 596.4 547.7 598.1 549.8 C599.8 551.9 608.0 555.5 610.0 556.6"/>
<path class="p" d="M545.3 480.0 C545.3 481.4 540.2 485.4 545.3 488.5 C550.4 491.6 570.9 497.0 576.0 498.7"/>
<path class="s" style="stroke-width:1" d="M471.3 440.0 C471.4 439.1 471.4 436.0 472.1 434.9 C472.8 433.8 474.6 432.9 475.5 433.2 C476.4 433.5 476.9 435.3 477.2 436.6 C477.5 437.9 477.2 440.2 477.2 440.9"/>
<ellipse class="s" style="stroke-width:0.9" cx="487.8" cy="441.7" rx="1.6" ry="1"/>
</g>
<!-- 55_deck7 -->
<g>
<path class="p" d="M660.0 516.8 C656.0 517.6 646.4 518.2 636.2 521.9 C626.0 525.6 606.4 535.5 598.7 538.9 C591.0 542.3 591.3 540.9 590.2 542.3 C589.1 543.7 589.9 544.5 591.9 547.4 C593.9 550.2 597.0 555.4 602.1 559.4 C607.2 563.4 613.0 568.2 622.6 571.3 C632.2 574.4 648.7 577.5 660.0 578.1 C671.3 578.7 681.5 577.2 690.6 574.7 C699.7 572.2 708.8 567.6 714.5 562.8 C720.2 558.0 723.9 551.1 724.7 545.7 C725.6 540.3 723.9 534.6 719.6 530.4 C715.3 526.1 706.5 522.6 699.1 520.2 C691.7 517.8 681.8 516.6 675.3 516.0 C668.8 515.4 662.5 516.7 660.0 516.8"/>
<ellipse class="p" cx="660" cy="547.4" rx="56.2" ry="28"/>
<ellipse class="p" cx="660" cy="547.9" rx="48.5" ry="25.2"/>
<ellipse class="p" cx="659.7" cy="550" rx="33.7" ry="19.6"/>
<ellipse class="p" cx="659.1" cy="556" rx="24.7" ry="11.9"/>
<path class="p" d="M636.2 559.4 C637.6 558.3 640.7 554.2 644.7 552.6 C648.7 551.0 654.9 550.0 660.0 550.0 C665.1 550.0 671.5 551.0 675.3 552.6 C679.1 554.2 681.7 558.3 683.0 559.4"/>
<ellipse class="tf" style="stroke-width:1;stroke-dasharray:4 1" cx="631.9" cy="533.8" rx="6.3" ry="4"/>
<ellipse class="t" style="stroke-width:1.3" cx="631.9" cy="533.8" rx="4.3" ry="2.7"/>
<ellipse class="t" style="stroke-width:1.3;stroke:#222" cx="631.9" cy="533.8" rx="2.3" ry="1.4"/>
<ellipse class="tf" style="stroke-width:1;stroke-dasharray:4 1" cx="687.2" cy="533.8" rx="6.3" ry="4"/>
<ellipse class="t" style="stroke-width:1.3" cx="687.2" cy="533.8" rx="4.3" ry="2.7"/>
<ellipse class="t" style="stroke-width:1.3;stroke:#222" cx="687.2" cy="533.8" rx="2.3" ry="1.4"/>
<ellipse class="tf" style="stroke-width:1;stroke-dasharray:4 1" cx="631.9" cy="566.2" rx="6.3" ry="4"/>
<ellipse class="t" style="stroke-width:1.3" cx="631.9" cy="566.2" rx="4.3" ry="2.7"/>
<ellipse class="t" style="stroke-width:1.3;stroke:#222" cx="631.9" cy="566.2" rx="2.3" ry="1.4"/>
<ellipse class="tf" style="stroke-width:1;stroke-dasharray:4 1" cx="687.2" cy="566.2" rx="6.3" ry="4"/>
<ellipse class="t" style="stroke-width:1.3" cx="687.2" cy="566.2" rx="4.3" ry="2.7"/>
<ellipse class="t" style="stroke-width:1.3;stroke:#222" cx="687.2" cy="566.2" rx="2.3" ry="1.4"/>
<ellipse class="t" style="stroke-width:1" cx="660.9" cy="495.5" rx="4.2" ry="2.6"/>
<ellipse class="k" style="fill:#444" cx="660.9" cy="495.8" rx="2.2" ry="1.1"/>
<ellipse class="t" style="stroke-width:1" cx="687.2" cy="483.6" rx="4.2" ry="2.6"/>
<ellipse class="k" style="fill:#444" cx="687.2" cy="483.9" rx="2.2" ry="1.1"/>
<path class="p" d="M580.0 497.2 C582.8 497.8 588.5 501.3 597.0 500.6 C605.5 499.9 622.6 495.0 631.1 493.0 C639.6 491.0 641.9 490.7 648.1 488.7 C654.3 486.7 662.1 483.1 668.5 481.1 C674.9 479.1 681.3 476.8 686.4 476.8 C691.5 476.8 690.2 476.7 699.1 481.1 C708.0 485.5 733.2 499.5 740.0 503.2"/>
<path class="p" d="M580.0 503.2 C583.4 503.5 591.9 505.9 600.4 504.9 C608.9 503.9 621.7 499.5 631.1 497.2 C640.5 494.9 647.4 494.3 656.6 491.3 C665.8 488.3 679.9 480.8 686.4 479.4 C692.9 478.0 691.3 480.5 695.7 482.8 C700.1 485.1 705.4 488.8 712.8 493.0 C720.2 497.2 735.5 505.8 740.0 508.3"/>
<path class="p" d="M686.4 476.8 L654.9 496.4 L636.2 513.4"/>
<path class="p" d="M692.3 481.1 L666.8 498.1 L675.3 508.3 L688.9 520.2"/>
<path class="p" d="M699.1 484.5 L724.7 496.4 L688.9 518.5"/>
<path class="p" d="M654.9 496.4 C651.5 496.1 639.2 493.6 634.5 494.7 C629.8 495.8 627.4 500.1 626.8 503.2 C626.2 506.3 628.1 510.6 631.1 513.4 C634.1 516.2 641.0 520.5 644.7 520.2 C648.4 519.9 650.4 514.8 653.2 511.7 C656.0 508.6 660.3 503.2 661.7 501.5"/>
<path class="p" d="M666.8 498.1 C665.7 500.1 663.1 506.6 660.0 510.0 C656.9 513.4 650.1 517.1 648.1 518.5"/>
<path class="p" d="M675.3 498.1 C677.6 500.1 686.6 506.3 688.9 510.0 C691.2 513.7 688.9 518.5 688.9 520.2"/>
<ellipse class="k" cx="723" cy="526.7" rx="1.9" ry="1.1"/>
<ellipse class="k" cx="613.2" cy="570.4" rx="1.9" ry="1.1"/>
<ellipse class="k" cx="709.4" cy="573" rx="1.9" ry="1.1"/>
<path class="p" d="M580.0 497.2 L598.7 538.9"/>
<path class="p" d="M597.0 500.6 L614.0 528.7"/>
<path class="p" d="M580.0 513.4 L602.1 543.2"/>
<path class="p" d="M580.0 527.9 L598.7 538.9"/>
<path class="p" d="M580.0 549.1 L591.9 547.4"/>
<path class="p" d="M580.0 573.0 C584.2 571.0 599.8 563.4 605.5 561.1 C611.2 558.8 612.6 559.7 614.0 559.4"/>
<path class="p" d="M580.0 581.5 C587.1 583.2 605.6 589.3 622.6 591.7 C639.6 594.1 665.9 596.6 682.1 596.0 C698.3 595.4 710.0 591.0 719.6 588.3 C729.2 585.6 736.6 581.2 740.0 579.8"/>
<path class="p" d="M620.9 591.7 L617.4 600.2"/>
<path class="p" d="M726.4 588.3 L733.2 600.2"/>
<path class="p" d="M733.2 583.2 L740.0 591.7"/>
<path class="p" d="M707.7 532.1 C708.0 534.9 709.4 543.7 709.4 549.1 C709.4 554.5 708.0 561.9 707.7 564.5"/>
<path class="p" d="M712.8 535.5 C713.1 537.8 714.6 544.8 714.5 549.1 C714.4 553.4 712.3 559.1 711.9 561.1"/>
</g>
<!-- 56_deck8 -->
<g>
<path class="p" d="M700.0 481.9 C703.4 484.2 713.9 491.8 720.4 495.5 C726.9 499.2 732.9 501.0 739.1 504.0 C745.4 507.0 752.5 509.7 757.9 513.4 C763.3 517.1 767.8 521.5 771.5 526.2 C775.2 530.9 778.0 536.1 780.0 541.5 C782.0 546.9 783.1 552.3 783.4 558.5 C783.7 564.7 783.4 572.1 781.7 578.9 C780.0 585.7 777.5 592.6 773.2 599.4 C769.0 606.2 762.2 613.6 756.2 619.8 C750.2 626.0 740.5 634.0 737.4 636.8"/>
<path class="p" d="M700.0 487.0 C702.8 488.7 709.9 493.5 717.0 497.2 C724.1 500.9 736.1 505.1 742.6 509.1 C749.1 513.1 753.2 516.3 756.2 521.1 C759.2 525.9 760.1 531.9 760.4 538.1 C760.7 544.3 760.9 552.3 757.9 558.5 C754.9 564.7 748.3 571.0 742.6 575.5 C736.9 580.0 730.9 582.9 723.8 585.7 C716.7 588.6 704.0 591.5 700.0 592.6"/>
<path class="p" d="M760.4 513.4 C762.5 511.7 768.0 506.2 773.2 503.2 C778.5 500.2 787.4 496.4 791.9 495.5 C796.4 494.6 798.0 496.2 800.4 498.1 C802.8 500.0 805.5 503.6 806.4 506.6 C807.2 509.6 806.5 513.0 805.5 516.0 C804.5 519.0 804.1 520.0 800.4 524.5 C796.7 529.0 786.2 540.1 783.4 543.2"/>
<path class="p" d="M770.6 521.1 L795.3 501.5"/>
<path class="p" d="M774.9 524.5 L802.1 504.0"/>
<ellipse class="t" style="stroke-width:1" cx="797.9" cy="515.6" rx="1.6" ry="2.6" transform="rotate(25 797.9 515.6)"/>
<path class="s" style="stroke-width:1.6" d="M760.4 513.4 C761.7 514.7 765.7 519.0 768.1 521.1 C770.5 523.2 773.8 525.4 774.9 526.2"/>
<path class="p" style="stroke-width:2.3;stroke:#1a1a1a;stroke-dasharray:0.9 0.8" d="M690.0 663.4 C694.2 662.2 707.0 659.4 715.5 656.4 C724.0 653.4 733.0 649.6 741.1 645.5 C749.2 641.4 757.2 636.8 764.0 631.5 C770.8 626.2 777.2 619.6 781.9 613.6 C786.6 607.6 789.8 601.2 792.1 595.7 C794.5 590.2 795.7 585.1 796.0 580.4 C796.3 575.7 794.3 569.8 794.0 567.7"/>
<path class="p" style="stroke-width:1.1;stroke:#111;stroke-dasharray:7 1" d="M689.6 662.0 C693.9 660.9 706.6 658.0 715.0 655.1 C723.5 652.1 732.4 648.4 740.5 644.3 C748.5 640.1 756.4 635.7 763.1 630.4 C769.9 625.1 776.2 618.6 780.8 612.7 C785.4 606.9 788.5 600.6 790.8 595.2 C793.1 589.7 794.3 584.8 794.6 580.3 C794.9 575.8 792.9 570.0 792.6 567.9"/>
<path class="p" d="M690.0 658.9 C694.2 657.7 707.4 654.8 715.5 651.9 C723.6 649.0 731.0 645.6 738.5 641.7 C746.0 637.8 753.6 633.4 760.2 628.3 C766.8 623.2 773.5 616.9 778.1 611.1 C782.7 605.4 785.8 598.9 788.0 593.8 C790.2 588.7 791.0 584.8 791.1 580.4 C791.2 576.0 790.0 571.7 788.9 567.7 C787.8 563.7 785.2 558.1 784.5 556.2"/>
<path class="p" d="M690.0 651.9 C694.9 650.6 710.5 647.7 719.4 644.3 C728.3 640.9 736.6 636.2 743.6 631.5 C750.6 626.8 756.2 622.0 761.5 616.2 C766.8 610.5 772.1 603.8 775.5 597.0 C778.9 590.2 780.7 581.5 781.9 575.3 C783.1 569.1 783.0 565.1 782.6 560.0 C782.2 554.9 779.9 547.2 779.4 544.7"/>
<path class="t" d="M783.2 577.9 L788.3 579.1 L787.0 584.3 L782.2 582.7 L783.2 577.9"/>
<path class="p" d="M690.0 594.5 C694.2 593.4 708.0 590.5 715.5 588.1 C723.0 585.8 729.2 583.4 734.7 580.4 C740.2 577.4 744.9 573.6 748.7 570.2 C752.5 566.8 756.2 561.7 757.7 560.0"/>
<path class="p" d="M690.0 623.8 C694.9 622.5 710.0 619.0 719.4 616.2 C728.8 613.4 738.3 611.0 746.2 607.2 C754.1 603.4 761.3 598.3 766.6 593.2 C771.9 588.1 775.6 582.1 778.1 576.6 C780.6 571.1 781.3 562.8 781.9 560.0"/>
<path class="p" d="M724.5 586.8 C726.0 588.7 731.5 594.2 733.4 598.3 C735.3 602.3 735.6 605.6 736.0 611.1 C736.4 616.6 735.6 626.6 736.0 631.5 C736.4 636.4 738.1 638.9 738.5 640.4"/>
<path class="p" d="M734.7 582.3 C736.2 584.1 741.7 588.8 743.6 593.2 C745.5 597.6 745.7 602.5 746.2 608.5 C746.7 614.5 746.2 624.0 746.8 628.9 C747.4 633.8 749.5 636.4 750.0 637.9"/>
<ellipse class="t" style="stroke-width:1" cx="751.9" cy="540.3" rx="4.8" ry="2.6" transform="rotate(-8 751.9 540.3)"/>
<ellipse class="k" cx="723" cy="526.2" rx="2.1" ry="1.2"/>
<ellipse class="k" cx="745.6" cy="548.8" rx="2.1" ry="1.2"/>
<ellipse class="k" cx="709.4" cy="572.6" rx="2.1" ry="1.2"/>
<path class="p" d="M700.0 517.7 C702.5 518.8 711.0 521.1 715.3 524.5 C719.5 527.9 724.4 533.0 725.5 538.1 C726.6 543.2 724.6 550.3 722.1 555.1 C719.6 559.9 713.9 564.5 710.2 567.0 C706.5 569.5 701.7 569.8 700.0 570.4"/>
<path class="p" d="M708.5 529.6 C709.6 531.6 714.4 537.8 715.3 541.5 C716.1 545.2 713.9 550.0 713.6 551.7"/>
<path class="p" d="M700.0 510.9 L722.1 498.9"/>
</g>
<!-- 57_deck9 -->
<g>
<path class="p" d="M580.0 581.3 C586.8 583.0 606.7 589.1 620.9 591.5 C635.1 593.9 651.5 595.6 665.1 595.7 C678.7 595.8 692.4 594.0 702.6 592.3 C712.8 590.6 720.2 587.8 726.4 585.5 C732.6 583.2 737.7 579.8 740.0 578.7"/>
<path class="p" d="M580.0 611.1 C585.7 612.4 600.4 616.4 614.0 618.7 C627.6 621.0 646.9 624.4 661.7 624.7 C676.5 625.0 689.6 623.0 702.6 620.4 C715.6 617.8 733.8 611.2 740.0 609.4"/>
<path class="p" d="M580.0 643.4 C585.4 644.4 600.4 647.8 612.3 649.4 C624.2 651.0 641.0 652.3 651.5 653.3 C662.0 654.3 665.6 656.1 675.3 655.3 C684.9 654.5 698.6 651.0 709.4 648.5 C720.2 646.0 734.9 641.4 740.0 640.0"/>
<path class="p" style="stroke-width:2.3;stroke:#1a1a1a;stroke-dasharray:0.9 0.8" d="M580.0 652.8 C585.7 654.0 601.8 658.3 614.0 660.1 C626.2 661.9 642.7 662.8 653.2 663.8 C663.7 664.8 667.6 667.2 677.0 666.4 C686.4 665.5 698.9 662.0 709.4 658.7 C719.9 655.4 734.9 648.8 740.0 646.8"/>
<path class="p" style="stroke-width:1.1;stroke:#111;stroke-dasharray:7 1" d="M579.7 654.1 C585.4 655.3 601.6 659.5 613.8 661.4 C626.0 663.2 642.5 664.0 653.1 665.1 C663.6 666.1 667.7 668.6 677.1 667.7 C686.6 666.8 699.2 663.2 709.8 659.9 C720.3 656.7 735.4 650.0 740.5 648.0"/>
<path class="p" d="M620.9 591.5 C619.8 594.2 615.3 601.6 614.0 607.7 C612.7 613.8 613.5 620.3 613.2 628.1 C612.9 635.9 612.4 650.1 612.3 654.5"/>
<path class="t" d="M650.6 653.3 L651.5 663.0"/>
<path class="t" d="M664.6 655.3 L665.1 664.2"/>
<path class="t" d="M675.3 655.3 L677.0 665.9"/>
<rect x="592.5" y="622.3" width="4.6" height="4" fill="#fff" stroke="#222" stroke-width="1" transform="rotate(8 594.8 624.3)"/>
<rect x="628.8" y="636.3" width="4.6" height="4" fill="#fff" stroke="#222" stroke-width="1" transform="rotate(8 631.1 638.3)"/>
</g>
<!-- 58_deck10 -->
<g>
<path class="p" d="M419.6 553.3 L440.0 557.0 L569.4 580.0 L600.0 586.0"/>
<path class="p" d="M406.0 580.9 L440.0 586.8 L563.4 608.1 L600.0 614.9"/>
<path class="p" d="M377.0 606.8 L440.0 618.3 L600.0 647.2"/>
<path class="p" d="M377.0 612.8 L440.0 624.3 L600.0 653.2"/>
<path class="p" d="M525.1 540.0 L600.0 554.5"/>
<path class="p" d="M569.4 580.0 C568.5 581.9 565.3 586.4 564.3 591.1 C563.3 595.8 563.5 605.3 563.4 608.1"/>
<path class="p" d="M569.4 580.0 L600.0 563.8"/>
<path class="p" style="stroke-width:2.3;stroke:#1a1a1a;stroke-dasharray:0.9 0.8" d="M377.0 617.1 L440.0 628.5 L600.0 657.4"/>
<path class="p" style="stroke-width:1.1;stroke:#111;stroke-dasharray:7 1" d="M376.8 618.4 L439.8 629.8 L599.8 658.7"/>
<rect x="569.8" y="624.5" width="4.6" height="4" fill="#fff" stroke="#222" stroke-width="1" transform="rotate(8 572.1 626.5)"/>
<rect x="592.3" y="622.3" width="4.6" height="4" fill="#fff" stroke="#222" stroke-width="1" transform="rotate(8 594.6 624.3)"/>
</g>
<!-- 59_deck11 -->
<g>
<path class="p" style="stroke-width:2.3;stroke:#1a1a1a;stroke-dasharray:0.9 0.8" d="M231.9 504.0 C233.9 506.9 239.0 514.9 243.8 521.1 C248.6 527.4 254.4 534.7 260.9 541.5 C267.4 548.3 275.6 555.1 283.0 561.9 C290.4 568.7 297.5 576.0 305.1 582.3 C312.8 588.5 320.4 594.6 328.9 599.4 C337.4 604.2 347.7 608.2 356.2 611.3 C364.7 614.4 376.0 617.0 380.0 618.1"/>
<path class="p" style="stroke-width:1.1;stroke:#111;stroke-dasharray:7 1" d="M233.0 503.3 C234.9 506.1 240.0 514.1 244.8 520.3 C249.6 526.5 255.3 533.8 261.8 540.6 C268.3 547.4 276.5 554.2 283.9 560.9 C291.2 567.7 298.3 575.1 305.9 581.3 C313.5 587.5 321.1 593.5 329.5 598.3 C338.0 603.1 348.2 607.0 356.6 610.1 C365.1 613.2 376.4 615.7 380.4 616.9"/>
<path class="s" style="stroke-width:1" d="M231.9 504.0 C232.1 505.7 231.0 511.4 232.8 514.3 C234.7 517.1 239.5 518.5 243.0 521.1 C246.5 523.7 252.2 528.2 254.0 529.6"/>
<path class="s" style="stroke-width:1" d="M236.2 510.9 L242.1 516.0"/>
<path class="p" d="M245.5 524.5 C252.0 529.6 277.0 548.7 284.7 555.1 C292.4 561.5 286.4 558.5 291.5 562.8 C296.6 567.0 307.4 575.4 315.3 580.6 C323.2 585.9 330.6 590.3 339.1 594.3 C347.6 598.3 359.6 602.2 366.4 604.5 C373.2 606.8 377.7 607.3 380.0 607.9"/>
<path class="p" d="M283.0 556.8 C287.2 560.5 299.7 572.4 308.5 578.9 C317.3 585.4 326.1 591.0 335.7 596.0 C345.3 601.0 359.0 606.0 366.4 608.7 C373.8 611.4 377.7 611.5 380.0 612.1"/>
<path class="p" d="M380.0 481.9 C374.9 481.8 358.6 479.2 349.4 481.1 C340.2 483.0 331.2 489.5 324.7 493.0 C318.2 496.5 314.6 498.5 310.2 502.3 C305.8 506.1 301.0 511.7 298.3 516.0 C295.6 520.3 294.7 522.8 294.0 527.9 C293.3 533.0 294.7 542.1 294.0 546.6 C293.3 551.1 291.6 553.4 289.8 555.1 C288.0 556.8 284.1 556.5 283.0 556.8"/>
<path class="p" d="M315.3 507.4 C313.0 509.4 304.8 515.4 301.7 519.4 C298.6 523.4 297.7 526.2 296.6 531.3 C295.5 536.4 295.6 544.6 294.9 550.0 C294.2 555.4 292.7 561.3 292.3 563.6"/>
<path class="p" d="M324.2 470.0 L324.7 493.0"/>
<path class="p" d="M311.9 501.5 C313.0 502.8 314.2 505.0 318.7 509.1 C323.2 513.2 331.2 521.4 339.1 526.2 C347.1 531.0 359.6 535.6 366.4 538.1 C373.2 540.6 377.7 540.9 380.0 541.5"/>
<path class="p" d="M298.3 529.6 L315.3 546.6"/>
<path class="p" d="M339.1 487.0 C340.8 488.7 343.7 492.9 349.4 497.2 C355.1 501.5 369.2 510.0 373.2 512.6"/>
<path class="p" d="M317.0 551.7 C317.1 550.6 316.8 547.2 317.9 544.9 C319.0 542.6 321.4 539.8 323.8 538.1 C326.2 536.4 322.9 532.2 332.3 534.7 C341.7 537.2 372.1 550.3 380.0 553.4"/>
<path class="p" d="M320.4 552.6 C320.5 551.6 320.3 548.5 321.3 546.6 C322.3 544.7 324.4 542.5 326.4 541.1 C328.4 539.7 324.8 535.8 333.2 538.1 C341.6 540.4 369.4 552.3 376.6 555.1"/>
<path class="p" d="M317.0 551.7 C317.9 553.4 313.9 553.1 322.1 561.9 C330.3 570.7 357.9 598.2 366.4 604.5 C374.9 610.8 372.1 600.2 373.2 599.4"/>
<path class="p" d="M320.4 552.6 C321.1 553.9 316.8 552.1 324.7 560.2 C332.6 568.3 360.9 594.3 368.1 601.1"/>
<path d="M324.7 548.3 l3 -2.6 l1.8 2.6 l-2.6 3.6Z" fill="#999" stroke="#222" stroke-width="0.9"/>
<path class="p" d="M344.3 573.8 L380.0 556.8"/>
<path class="p" d="M344.3 573.8 L373.2 572.1"/>
<path class="p" d="M369.8 573.8 L369.8 596.0"/>
<path class="p" d="M374.0 573.8 L374.0 596.0"/>
</g>
<!-- 59_deck12 -->
<g>
<path class="p" d="M250.0 424.5 L289.8 473.0"/>
<path class="p" d="M230.9 450.0 L254.0 478.7"/>
<path class="p" d="M188.9 427.7 L226.0 481.3"/>
<path class="p" d="M194.0 445.5 L229.8 490.2"/>
<path class="p" style="stroke-width:2.3;stroke:#1a1a1a;stroke-dasharray:0.9 0.8" d="M186.6 448.0 L206.4 470.2 L232.0 502.3 L236.2 509.4"/>
<path class="p" style="stroke-width:1.1;stroke:#111;stroke-dasharray:7 1" d="M187.6 447.1 L207.4 469.4 L233.0 501.5 L237.3 508.7"/>
<path class="s" style="stroke-width:1" d="M231.1 503.0 C231.3 504.5 230.6 508.9 232.3 511.9 C234.0 514.9 239.8 519.4 241.3 520.9"/>
<path class="s" style="stroke-width:1" d="M234.3 508.1 L240.0 514.5"/>
<path class="s" style="stroke-width:1.1" d="M223.4 486.4 L229.1 491.5 L231.1 485.1 L238.7 490.9 L240.0 482.6 L246.4 487.7 L247.7 479.4 L265.5 481.3 L266.8 481.9 L264.3 489.6 L269.4 495.3 L255.3 509.4 L243.2 510.6 L242.6 529.8"/>
<path class="s" style="stroke-width:0.9" d="M223.4 480.0 L229.1 480.0 L229.1 491.5"/>
<path d="M235.6 502.9 L248.6 499.9" stroke="#161616" stroke-width="5.2" stroke-dasharray="3 0.3"/>
<ellipse class="sf" style="stroke-width:1.3" cx="251.6" cy="499.6" rx="4.2" ry="5.4" transform="rotate(12 251.6 499.6)"/>
<ellipse class="s" style="stroke-width:1" cx="251.4" cy="499.6" rx="2.3" ry="3.3" transform="rotate(12 251.4 499.6)"/>
<path d="M203.9 444.4 L211.3 442.3 M210.5 439.3 L212.1 445.3" stroke="#222" stroke-width="1.3" fill="none"/>
<path d="M231.4 477.6 L240.0 475.5 M239.2 472.5 L240.8 478.5" stroke="#222" stroke-width="1.3" fill="none"/>
<path class="p" d="M266.8 481.0 L300.0 470.8"/>
<path class="p" d="M267.3 482.6 L300.0 472.6"/>
<rect x="306" y="450.6" width="4.2" height="2.6" fill="#222" transform="rotate(8 308 452)"/>
</g>
<!-- 60_hardware -->
<g>
<!-- nuts -->
<use href="#nut" x="318.4" y="208.1"/>
<use href="#nut" x="377.2" y="190.6"/>
<use href="#nut" x="687.2" y="329.6"/>
<use href="#nut" x="634.8" y="369.4"/>
<g transform="translate(85 542.5) rotate(-75)"><use href="#nut"/></g>
<use href="#nutb" x="405.7" y="752.9"/>
<!-- plugs 0140 -->
<use href="#plugh" x="162" y="456.2"/>
<use href="#plugh" x="179.5" y="491.8"/>
<!-- plugs 0160 -->
<use href="#plugv" x="709.6" y="457.8"/>
<use href="#plugv" x="723.5" y="478.7"/>
<use href="#plugv" x="745.6" y="476.6"/>
<use href="#plugv" x="307.8" y="414.2"/>
<g transform="translate(243.9 263) rotate(-62)"><use href="#plugv"/></g>
<!-- screws -->
<g transform="translate(133.8 157.3) rotate(1.8)"><use href="#screw"/></g>
<g transform="translate(131.1 184.3) rotate(1.8)"><use href="#screw"/></g>
<g transform="translate(905.2 417.6) rotate(180)"><use href="#screw2"/></g>
<!-- hex bolts left -->
<g transform="translate(84 306.8) rotate(24)"><use href="#hbolt"/></g>
<g transform="translate(38.5 396.5) rotate(35)"><use href="#hbolt"/></g>
<!-- round bolts -->
<circle cx="250.3" cy="97.2" r="6.1" fill="#fff" stroke="#111" stroke-width="1.7"/><path d="M245.6 93.4 Q250.3 89.6 255 93.4" fill="none" stroke="#111" stroke-width="0.9"/>
<path d="M247.7 96.4 Q247.7 93.4 250.6 93.4 Q253.6 93.4 253.8 96.4 L254.3 104 Q254.2 106.8 252.2 106.8 Q250 106.8 249.4 104Z" fill="#111"/><ellipse cx="252.3" cy="105.6" rx="1.2" ry="0.9" fill="#ddd"/>
<use href="#rbolt" x="825" y="478.2"/>
<g transform="translate(511.2 806.2) rotate(42) scale(0.98)"><use href="#rbolt"/></g>
<g transform="translate(792.3 853.4) rotate(14) scale(0.98)"><use href="#rbolt"/></g>
<!-- plug bottom 0140 -->
<path d="M550.4 679.6 Q555.6 678.6 557.6 683.6" fill="none" stroke="#222" stroke-width="2.2"/>
<ellipse cx="552.5" cy="684.2" rx="4.4" ry="4.5" fill="#fff" stroke="#111" stroke-width="1.4"/>
</g>
<!-- 70_spindle -->
<g>
<path class="p" d="M398.4 492.9 C398.8 491.0 398.7 485.1 400.7 481.4 C402.7 477.7 406.6 473.8 410.3 470.9 C414.0 468.0 420.7 465.2 422.8 464.1"/>
<path class="p" d="M480.7 492.9 C480.1 491.0 479.3 484.9 477.3 481.4 C475.3 477.9 472.1 474.5 468.7 471.8 C465.3 469.1 459.1 466.2 457.2 465.1"/>
<path class="s" d="M398.4 492.9 C398.6 494.5 398.6 499.4 399.8 502.4 C401.0 505.4 403.4 508.9 405.5 511.1 C407.6 513.4 411.1 515.1 412.2 515.9"/>
<path class="s" d="M480.7 492.9 C480.5 494.5 480.5 499.4 479.3 502.4 C478.1 505.4 475.6 508.9 473.5 511.1 C471.4 513.4 467.9 515.1 466.8 515.9"/>
<path class="p" d="M405.5 511.1 C407.7 512.7 413.2 518.4 418.9 520.6 C424.6 522.8 432.6 524.5 439.5 524.5 C446.4 524.5 454.4 522.8 460.1 520.6 C465.8 518.4 471.3 512.7 473.5 511.1"/>
<path class="s" style="stroke-width:1.4" d="M400.7 485.2 C400.5 486.5 399.3 490.2 399.3 492.9 C399.3 495.6 400.6 500.1 400.9 501.5"/>
<path class="s" style="stroke-width:1.4" d="M478.3 485.2 C478.6 486.5 480.0 490.2 480.0 492.9 C480.0 495.6 478.8 500.1 478.5 501.5"/>
<ellipse class="sf" style="stroke-width:1.1" cx="411.8" cy="474.7" rx="4.6" ry="3.2"/>
<ellipse class="s" style="stroke-width:0.9" cx="411.8" cy="474.7" rx="2.4" ry="1.6"/>
<ellipse class="sf" style="stroke-width:1.1" cx="467.3" cy="474.7" rx="4.6" ry="3.2"/>
<ellipse class="s" style="stroke-width:0.9" cx="467.3" cy="474.7" rx="2.4" ry="1.6"/>
<ellipse class="sf" style="stroke-width:1.1" cx="411.8" cy="507.2" rx="4.6" ry="3.2"/>
<ellipse class="s" style="stroke-width:0.9" cx="411.8" cy="507.2" rx="2.4" ry="1.6"/>
<ellipse class="sf" style="stroke-width:1.1" cx="467.3" cy="507.2" rx="4.6" ry="3.2"/>
<ellipse class="s" style="stroke-width:0.9" cx="467.3" cy="507.2" rx="2.4" ry="1.6"/>
<path class="s" d="M407.4 476.6 C407.7 477.2 407.8 479.9 409.4 480.4 C411.0 480.9 415.0 479.3 417.0 479.5 C419.0 479.7 420.6 481.1 421.3 481.4"/>
<path class="s" d="M471.6 476.6 C471.3 477.2 471.3 479.9 469.7 480.4 C468.1 480.9 464.0 479.3 462.0 479.5 C460.0 479.7 458.4 481.1 457.7 481.4"/>
<path class="s" d="M416.5 473.7 L421.3 475.6"/>
<path class="s" d="M462.5 473.7 L457.7 475.6"/>
<rect class="s" x="407.3" y="487.6" width="10.4" height="13.6" rx="4" style="stroke-width:1.25"/>
<rect class="s" x="461.3" y="487.6" width="10.4" height="13.6" rx="4" style="stroke-width:1.25"/>
<path class="s" style="stroke-width:1.9" d="M415.6 490.0 C416.2 490.2 418.3 489.6 418.9 491.0 C419.5 492.4 419.8 496.9 419.4 498.6 C419.0 500.3 417.0 500.6 416.5 501.0"/>
<path class="s" style="stroke-width:1.6" d="M463.5 490.0 C462.9 490.2 460.8 489.6 460.1 491.0 C459.5 492.4 459.2 496.9 459.6 498.6 C460.0 500.3 462.0 500.6 462.5 501.0"/>
<path class="sf" style="stroke-width:1.25" d="M421.8 467.5 L422.3 503.4 Q439.5 509.2 457.2 502.4 L457.2 467.5 Z"/>
<ellipse class="sf" style="stroke-width:1.4" cx="439.5" cy="467.5" rx="17.7" ry="9.6"/>
<ellipse class="s" style="stroke-width:1.3;stroke-dasharray:2 1" cx="439.5" cy="467.8" rx="14.6" ry="7.6"/>
<ellipse class="s" style="stroke-width:1.4" cx="439.5" cy="467.5" rx="9.4" ry="5"/>
<ellipse class="s" style="stroke-width:1.3" cx="439.5" cy="467.9" rx="6" ry="3"/>
<path class="s" style="stroke-width:1.4" d="M426.6 479.0 L422.8 504.4 L429.0 502.4 L426.6 479.0"/>
<path class="s" style="stroke-width:1.4" d="M452.4 479.5 L449.6 501.5 L456.3 503.4 L452.4 479.5"/>
<path class="s" style="stroke-width:1.2" d="M425.8 483.3 L424.2 502.4"/>
<path class="s" style="stroke-width:1.2" d="M453.2 483.3 L454.6 502.4"/>
<path class="s" d="M411.3 513.9 L418.0 506.3 L422.8 504.4"/>
<path class="s" d="M466.8 515.4 L461.1 507.2 L456.3 503.4"/>
<path class="s" style="stroke-width:1.5" d="M412.2 514.9 C414.4 515.4 421.1 517.2 425.6 517.8 C430.2 518.4 435.0 518.5 439.5 518.5 C444.0 518.5 447.8 518.3 452.4 517.8 C456.9 517.3 464.4 515.8 466.8 515.4"/>
<path class="s" style="stroke-width:1" d="M414.1 513.2 C416.0 513.6 421.4 515.2 425.6 515.7 C429.8 516.2 435.0 516.3 439.5 516.3 C444.0 516.3 448.2 516.2 452.4 515.7 C456.6 515.2 462.8 513.9 464.9 513.5"/>
<rect class="s" x="427.6" y="507.2" width="23.9" height="4.8" rx="2.4" style="stroke-width:1.4"/>
<path class="s" style="stroke-width:1.2" d="M429.5 503.9 C431.2 504.3 436.1 506.4 439.5 506.3 C442.9 506.2 447.9 503.9 449.6 503.4"/>
<path class="s" style="stroke-width:1.8" d="M416.5 501.5 C417.1 501.8 418.8 502.6 419.9 503.4 C420.9 504.2 422.3 505.8 422.8 506.3"/>
<path class="s" style="stroke-width:1.4" d="M462.5 501.5 C461.9 501.8 460.1 502.6 459.2 503.4 C458.3 504.2 457.5 505.8 457.2 506.3"/>
</g>
<!-- 71_star -->
<g>
<path class="p" d="M344.7 574.5 L371.6 558.7 L395.0 556.3 L437.1 565.1 L412.6 568.0"/>
<path class="p" style="stroke-width:1.4" d="M344.7 575.1 L375.1 572.7"/>
<path class="p" style="stroke-width:1.4" d="M412.6 568.0 L437.1 565.7"/>
<path class="p" d="M390.9 547.6 L390.9 555.7"/>
<path class="p" d="M397.3 547.6 L397.9 556.3"/>
<path class="p" d="M400.9 547.6 L403.8 555.7"/>
<path class="p" d="M369.8 573.3 L369.3 593.2"/>
<path class="p" d="M375.1 573.3 L374.5 592.0"/>
<path class="p" d="M372.2 573.3 L371.8 592.6"/>
<path class="p" style="stroke-width:1.3" d="M340.0 579.2 L365.7 604.3 L373.9 599.0"/>
<path class="p" d="M340.0 576.2 L364.6 600.2 L369.8 596.7"/>
<path class="p" d="M340.0 537.0 L378.6 552.2 L382.1 555.2 L380.4 558.1 L377.4 557.5"/>
<path class="p" d="M340.0 539.9 L375.1 554.0 L378.0 556.3"/>
<path class="p" d="M340.0 596.7 L366.9 593.8 L388.0 592.6"/>
<path class="p" d="M413.7 582.7 L450.0 589.7"/>
<path class="p" d="M414.9 558.1 L450.0 538.2"/>
<path class="p" d="M416.1 537.0 L450.0 537.0"/>
<path class="p" d="M403.2 544.0 C405.1 542.8 411.8 539.3 414.9 537.0 C418.0 534.7 420.7 531.2 421.9 530.0"/>
<path class="p" d="M405.5 545.2 C407.1 546.6 411.0 551.5 414.9 553.4 C418.8 555.3 423.0 555.7 428.9 556.9 C434.8 558.1 446.5 559.8 450.0 560.4"/>
<path class="p" d="M340.0 530.0 C343.9 531.6 355.2 536.8 363.4 539.4 C371.6 542.0 382.9 544.9 389.2 545.8 C395.4 546.7 398.9 544.8 400.9 544.6"/>
<path class="sf" style="stroke-width:1.2" d="M387.9 566.0 L398.1 570.7 L403.8 561.8 L405.1 566.0 L411.8 564.4 L410.2 580.0 L413.7 586.1 L406.1 594.0 L412.4 600.4 L391.1 599.1 L382.1 598.5 L386.0 592.4 L382.1 592.1 L377.0 586.7 L387.6 584.8 L380.5 577.4 L389.8 577.1 L383.1 570.4Z"/>
<ellipse class="s" style="stroke-width:1.4" cx="388.8" cy="563.7" rx="2.7" ry="1.5"/>
<path d="M398.0 583.2 L395.7 595.0" stroke="#161616" stroke-width="5.2" stroke-dasharray="3 0.3"/>
<ellipse class="sf" style="stroke-width:0.8" cx="395.2" cy="595.4" rx="2.2" ry="1.4"/>
<path class="s" style="stroke-width:1.4" d="M393.0 583.2 C393.1 582.5 392.4 579.8 393.3 578.7 C394.2 577.6 396.9 576.5 398.7 576.5 C400.5 576.5 403.1 577.5 404.1 578.7 C405.1 579.9 404.7 582.9 404.8 583.8"/>
<path class="s" style="stroke-width:1.2" d="M395.2 581.9 C395.2 581.5 394.9 580.2 395.5 579.7 C396.1 579.2 397.6 578.6 398.7 578.6 C399.8 578.6 401.3 579.3 401.9 580.0 C402.5 580.7 402.1 582.2 402.2 582.6"/>
<rect x="391.1" y="599.5" width="5" height="3.4" fill="#fff" stroke="#111" stroke-width="1.1"/>
</g>
<!-- 90_labels -->
<g class="tx">
<text x="385.70" y="66.95" textLength="30.8" lengthAdjust="spacingAndGlyphs">0150</text>
<text x="291.70" y="117.65" textLength="30.8" lengthAdjust="spacingAndGlyphs">0100</text>
<text x="161.45" y="118.90" textLength="30.8" lengthAdjust="spacingAndGlyphs">0020</text>
<text x="56.20" y="176.65" textLength="30.8" lengthAdjust="spacingAndGlyphs">0100</text>
<text x="366.70" y="151.65" textLength="30.8" lengthAdjust="spacingAndGlyphs">0090</text>
<text x="425.20" y="219.65" textLength="30.8" lengthAdjust="spacingAndGlyphs">0010</text>
<text x="188.20" y="248.90" textLength="30.8" lengthAdjust="spacingAndGlyphs">0160</text>
<text x="97.95" y="271.40" textLength="30.8" lengthAdjust="spacingAndGlyphs">0040</text>
<text x="25.95" y="348.15" textLength="30.8" lengthAdjust="spacingAndGlyphs">0100</text>
<text x="242.20" y="405.40" textLength="30.8" lengthAdjust="spacingAndGlyphs">0140</text>
<text x="63.95" y="488.65" textLength="30.8" lengthAdjust="spacingAndGlyphs">0050</text>
<text x="111.45" y="590.40" textLength="30.8" lengthAdjust="spacingAndGlyphs">0090</text>
<text x="226.20" y="610.40" textLength="30.8" lengthAdjust="spacingAndGlyphs">0120</text>
<text x="340.20" y="672.15" textLength="30.8" lengthAdjust="spacingAndGlyphs">0130</text>
<text x="330.20" y="734.65" textLength="30.8" lengthAdjust="spacingAndGlyphs">0090</text>
<text x="479.70" y="672.90" textLength="30.8" lengthAdjust="spacingAndGlyphs">0140</text>
<text x="637.95" y="705.90" textLength="30.8" lengthAdjust="spacingAndGlyphs">0030</text>
<text x="623.95" y="867.15" textLength="30.8" lengthAdjust="spacingAndGlyphs">0100</text>
<text x="598.70" y="319.65" textLength="30.8" lengthAdjust="spacingAndGlyphs">0090</text>
<text x="559.70" y="401.40" textLength="30.8" lengthAdjust="spacingAndGlyphs">0010</text>
<text x="776.70" y="326.40" textLength="30.8" lengthAdjust="spacingAndGlyphs">0020</text>
<text x="755.20" y="445.40" textLength="30.8" lengthAdjust="spacingAndGlyphs">0160</text>
<text x="870.95" y="481.65" textLength="30.8" lengthAdjust="spacingAndGlyphs">0100</text>
</g>
</svg>
</body></html>
